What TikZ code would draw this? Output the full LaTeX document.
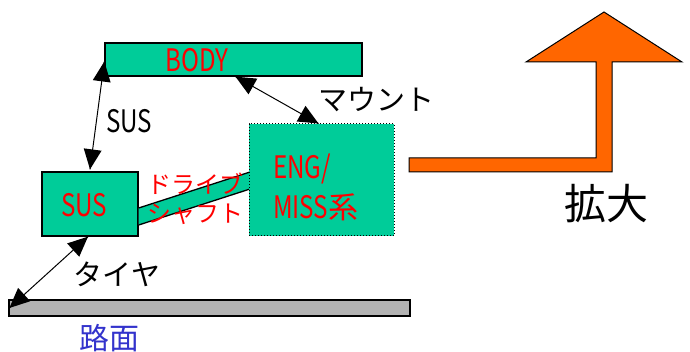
\documentclass[tikz,border=0pt]{standalone}
\usepackage{fontspec}
\setmainfont{Noto Sans CJK JP}
\newfontfamily\jpf{Noto Sans CJK JP}
\newfontfamily\narrowf[FakeStretch=0.78]{Noto Sans CJK JP}
\usetikzlibrary{arrows.meta,calc}
\definecolor{boxgreen}{RGB}{0,204,153}
\definecolor{txtred}{RGB}{255,0,0}
\definecolor{arrorange}{RGB}{255,102,0}
\definecolor{roadgray}{RGB}{178,178,178}
\definecolor{txtblue}{RGB}{51,51,204}
\tikzset{
  gbox/.style={draw=black, fill=boxgreen, line width=1.3pt, inner sep=0pt},
  dbox/.style={draw=black, fill=boxgreen, line width=1pt, dotted, inner sep=0pt},
  latin/.style={inner sep=0pt, font=\narrowf\fontsize{31}{31}\selectfont},
  kana/.style={inner sep=0pt, font=\jpf\fontsize{#1}{#1}\selectfont},
  link/.style={line width=1pt},
}
% filled triangular head with tip at #1, pointing away from #2
\newcommand\myhead[2]{%
  \fill (#1) -- ($($(#1)!20pt!(#2)$)!9pt!90:(#2)$) -- ($($(#1)!20pt!(#2)$)!9pt!-90:(#2)$) -- cycle;}
\begin{document}
\begin{tikzpicture}[x=1pt,y=-1pt]
\useasboundingbox (0,0) rectangle (690,352);
% road
\node[draw=black, fill=roadgray, line width=1.3pt, minimum width=401pt, minimum height=16pt, inner sep=0pt] (road) at (209.5,308) {};
% boxes
\node[gbox, minimum width=257pt, minimum height=33pt] (body) at (233.5,59.5) {};
\node[gbox, minimum width=96pt, minimum height=64pt] (sus) at (90,204) {};
% drive shaft
\coordinate (s1) at ([yshift=-4pt]sus.east);
\coordinate (s2) at ([yshift=-21pt]sus.east);
\fill[boxgreen] (s1) -- (250,172) -- (250,189) -- (s2) -- cycle;
\draw[line width=1.3pt] (s1) -- (250,172);
\draw[line width=1.3pt] (s2) -- (250,189);
\node[dbox, minimum width=145pt, minimum height=112pt] (eng) at (321.5,180) {};
% texts in boxes
\node[latin, text=txtred] (bodyt) at (197,60) {BODY};
\node[latin, text=txtred] (sust) at (84,205) {SUS};
\node[latin, text=txtred, anchor=west] (engt) at (273,169) {ENG/};
\node[latin, text=txtred, anchor=west] (misst) at (273,207) {MISS{\jpf\fontsize{30}{30}\selectfont 系}};
\node[kana=24, text=txtred] (drive1) at (195,184) {ドライブ};
\node[kana=24, text=txtred] (drive2) at (195,214) {シャフト};
% connectors
\coordinate (a1) at ([yshift=-2pt]body.west);
\coordinate (a2) at ([yshift=2pt]sus.north);
\coordinate (b1) at ([xshift=2pt]body.south);
\coordinate (b2) at ([xshift=-3pt]eng.north);
\coordinate (c1) at ([xshift=-2pt]sus.south);
\coordinate (c2) at ([xshift=1pt]road.west);
\draw[link] (a1) -- (a2); \myhead{a1}{a2} \myhead{a2}{a1}
\draw[link] (b1) -- (b2); \myhead{b1}{b2} \myhead{b2}{b1}
\draw[link] (c1) -- (c2); \myhead{c1}{c2} \myhead{c2}{c1}
% labels
\node[latin] (suslbl) at (129,121) {SUS};
\node[kana=29] (mount) at (376,100) {マウント};
\node[kana=29] (tire) at (117,274) {タイヤ};
\node[kana=30, text=txtblue] (road lbl) at (109,338) {路面};
% big orange arrow
\draw[fill=arrorange, line width=1pt, line join=miter]
  (409,158) -- (596,158) -- (596,62) -- (526,62) -- (604,12) -- (682,62)
  -- (612,62) -- (612,172) -- (409,172) -- cycle;
\node[kana=42] (kakudai) at (606,204) {拡大};
\end{tikzpicture}
\end{document}
